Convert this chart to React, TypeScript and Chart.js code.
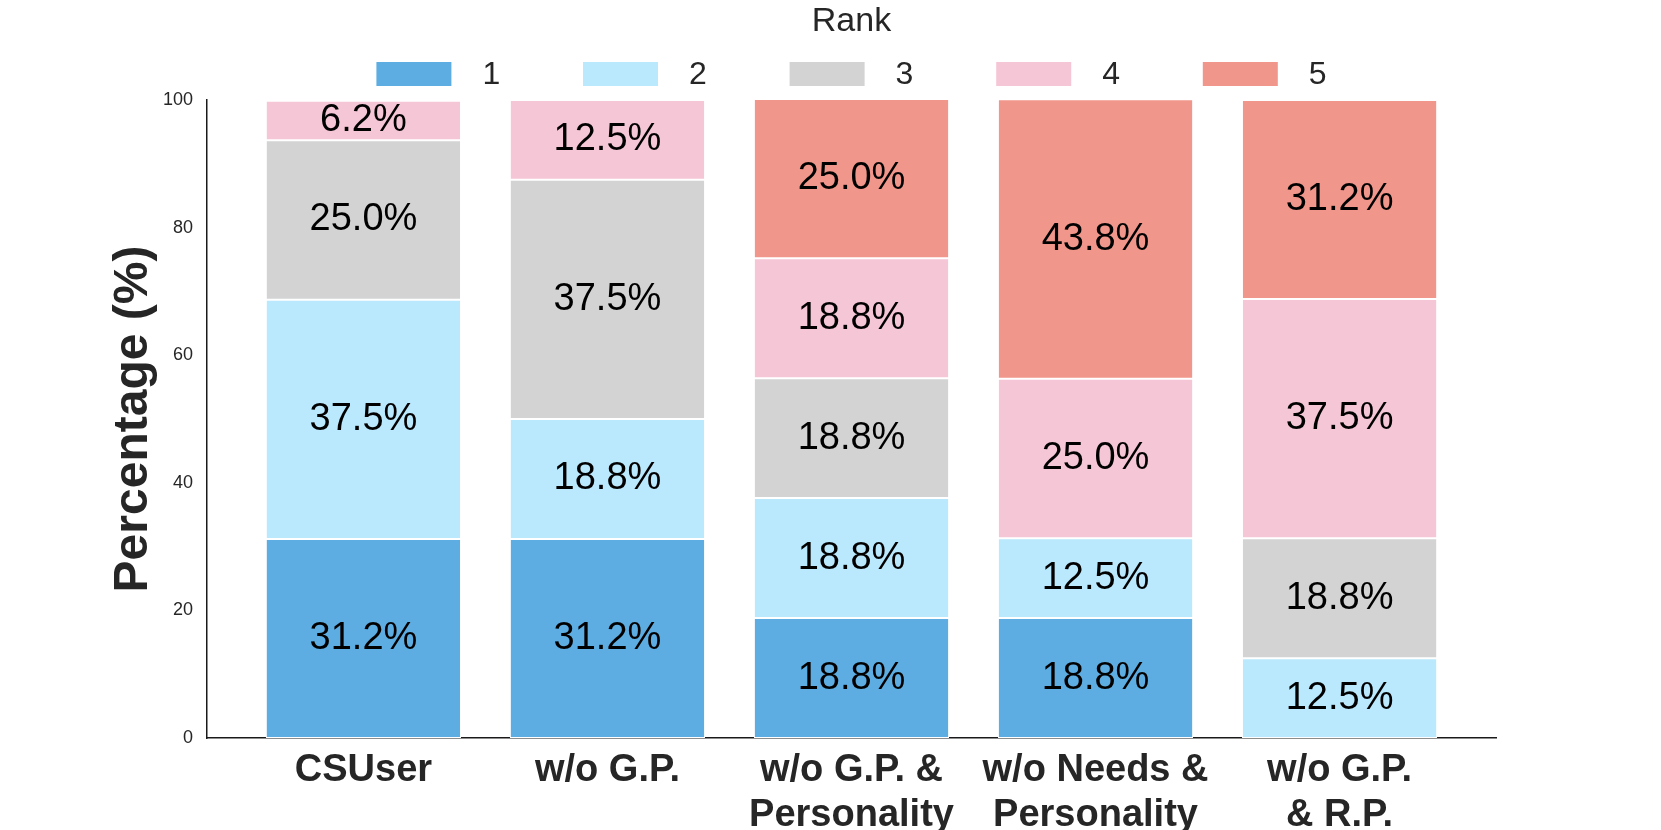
import React, { useEffect, useRef } from "react";
import { Chart, registerables } from "chart.js";

Chart.register(...registerables);

const CATEGORIES: string[][] = [
  ["CSUser"],
  ["w/o G.P."],
  ["w/o G.P. &", "Personality"],
  ["w/o Needs &", "Personality"],
  ["w/o G.P.", "& R.P."],
];
const RANKS = ["1", "2", "3", "4", "5"];
const RANK1 = [31.2, 31.2, 18.8, 18.8, 0];
const RANK2 = [37.5, 18.8, 18.8, 12.5, 12.5];
const RANK3 = [25.0, 37.5, 18.8, 0, 18.8];
const RANK4 = [6.2, 12.5, 18.8, 25.0, 37.5];
const RANK5 = [0, 0, 25.0, 43.8, 31.2];
const SERIES = [RANK1, RANK2, RANK3, RANK4, RANK5];
const COLORS = ["#5DADE2", "#BAE8FC", "#D3D3D3", "#F5C6D6", "#F1968A"];
const Y_MIN = 0;
const Y_MAX = 100;
const Y_STEP = 20;
const LEGEND_TITLE = "Rank";
const Y_TITLE = "Percentage (%)";

const FONT = '"Liberation Sans", Arial, sans-serif';
const W = 1661;
const H = 830;

const segLabels = {
  id: "segLabels",
  afterDatasetsDraw(chart: any) {
    const ctx = chart.ctx;
    ctx.save();
    ctx.font = `38px ${FONT}`;
    ctx.fillStyle = "#000";
    ctx.textAlign = "center";
    ctx.textBaseline = "middle";
    chart.data.datasets.forEach((ds: any, di: number) => {
      const meta = chart.getDatasetMeta(di);
      meta.data.forEach((el: any, i: number) => {
        const v = ds.data[i].y;
        if (!v) return;
        const p = el.getProps(["x", "y", "base"], true);
        ctx.fillText(`${v.toFixed(1)}%`, p.x, (p.y + p.base) / 2);
      });
    });
    ctx.restore();
  },
};

const rankLegend = {
  id: "rankLegend",
  afterDraw(chart: any) {
    const { ctx, chartArea } = chart;
    const cx = (chartArea.left + chartArea.right) / 2;
    ctx.save();
    ctx.fillStyle = "#262626";
    ctx.textAlign = "center";
    ctx.textBaseline = "middle";
    ctx.font = `34px ${FONT}`;
    ctx.fillText(LEGEND_TITLE, cx, 22);
    ctx.font = `32px ${FONT}`;
    const boxW = 75;
    const boxH = 24;
    const gap = 31;
    const step = 206.6;
    const dss = chart.data.datasets;
    const lastW = ctx.measureText(dss[dss.length - 1].label).width;
    const total = step * (dss.length - 1) + boxW + gap + lastW;
    const x0 = cx - total / 2;
    dss.forEach((ds: any, i: number) => {
      const x = x0 + i * step;
      ctx.fillStyle = ds.backgroundColor;
      ctx.fillRect(x, 62, boxW, boxH);
      ctx.fillStyle = "#262626";
      ctx.textAlign = "left";
      ctx.fillText(ds.label, x + boxW + gap, 75);
    });
    ctx.restore();
  },
};

export default function App() {
  const ref = useRef<HTMLCanvasElement | null>(null);
  useEffect(() => {
    if (!ref.current) return;
    const chart = new Chart(ref.current, {
      type: "bar",
      data: {
        datasets: SERIES.map((s, k) => ({
          label: RANKS[k],
          data: s.map((v, i) => ({ x: i, y: v })),
          backgroundColor: COLORS[k],
          borderColor: "#FFFFFF",
          borderWidth: 1,
          borderSkipped: false,
          categoryPercentage: 1,
          barPercentage: 0.8,
        })),
      },
      options: {
        animation: false,
        responsive: false,
        devicePixelRatio: 1,
        layout: { padding: { left: 0, top: 100, right: W - 1496, bottom: 0 } },
        plugins: { legend: { display: false }, tooltip: { enabled: false }, title: { display: false } },
        scales: {
          x: {
            type: "linear",
            stacked: true,
            offset: false,
            min: -0.641,
            max: CATEGORIES.length - 1 + 0.641,
            z: 1,
            grid: { display: false, drawTicks: false, offset: false },
            border: { display: true, color: "#1a1a1a", width: 1.5 },
            afterBuildTicks: (s: any) => {
              s.ticks = CATEGORIES.map((_, i) => ({ value: i }));
            },
            afterFit: (s: any) => {
              s.height = H - 738;
            },
            ticks: {
              padding: 10.5,
              color: "#262626",
              font: { family: FONT, size: 38, weight: "bold", lineHeight: 1.18 },
              maxRotation: 0,
              autoSkip: false,
              callback: (v: any) => CATEGORIES[Math.round(v)] ?? "",
            },
          },
          y: {
            stacked: true,
            min: Y_MIN,
            max: Y_MAX,
            z: 1,
            grid: { display: false, drawTicks: false },
            border: { display: true, color: "#1a1a1a", width: 1.5 },
            afterFit: (s: any) => {
              s.width = 207;
            },
            ticks: {
              stepSize: Y_STEP,
              padding: 14,
              color: "#262626",
              font: { family: FONT, size: 18 },
            },
            title: {
              display: true,
              text: Y_TITLE,
              color: "#262626",
              font: { family: FONT, size: 48, weight: "bold", lineHeight: 1.2 },
              padding: { top: 105, bottom: 0 },
            },
          },
        },
      },
      plugins: [segLabels, rankLegend],
    } as any);
    return () => chart.destroy();
  }, []);
  return (
    <div style={{ position: "fixed", left: 0, top: 0, width: W, height: H, background: "#fff" }}>
      <canvas ref={ref} width={W} height={H} style={{ display: "block" }} />
    </div>
  );
}
